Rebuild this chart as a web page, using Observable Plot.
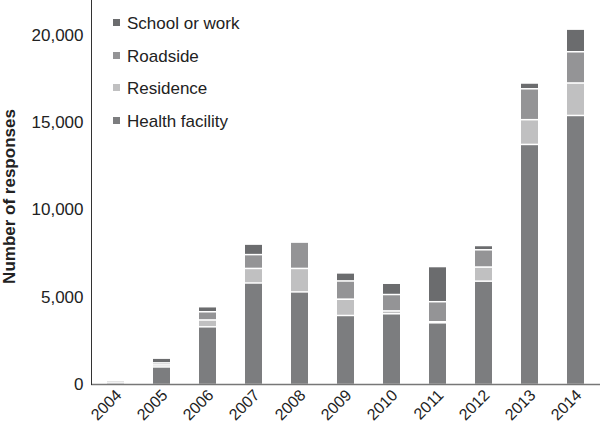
<!DOCTYPE html>
<html>
<head>
<meta charset="utf-8">
<script src="https://cdn.jsdelivr.net/npm/d3@7"></script>
<script src="https://cdn.jsdelivr.net/npm/@observablehq/plot@0.6"></script>
<style>
  html, body { margin: 0; padding: 0; background: #fff; }
  #wrap { position: relative; width: 600px; height: 424px; font-family: "Liberation Sans", Arial, sans-serif; }
  #legend { position: absolute; left: 113px; top: 8px; }
  .row { height: 32.7px; line-height: 32.7px; font-size: 17px; color: #222; white-space: nowrap; }
  .sw { display: inline-block; width: 7px; height: 7px; margin-right: 7px; vertical-align: middle; position: relative; top: -2px; }
</style>
</head>
<body>
<div id="wrap"><div id="chart"></div><div id="legend"></div></div>
<script>
const years = ["2004","2005","2006","2007","2008","2009","2010","2011","2012","2013","2014"];
const categories = ["Health facility", "Residence", "Roadside", "School or work"];
const healthFacility = [90, 1006, 3305, 5816, 5305, 3954, 4052, 3534, 5919, 13753, 15413];
const residence      = [50, 115, 390, 833, 1344, 931, 161, 60, 805, 1419, 1857];
const roadside       = [0, 115, 472, 793, 1437, 1046, 942, 1149, 994, 1770, 1793];
const schoolOrWork   = [0, 201, 218, 529, 0, 391, 575, 1943, 173, 259, 1224];
const colors = ["#7c7d7f", "#c0c0c1", "#949496", "#6b6c6e"];
const yTicks = [0, 5000, 10000, 15000, 20000];

const series = [healthFacility, residence, roadside, schoolOrWork];
const data = years.flatMap((yr, i) => categories.map((c, j) => ({year: yr, category: c, value: series[j][i]})));
const nonZero = data.filter((d) => d.value > 0);

const chart = Plot.plot({
  width: 600,
  height: 424,
  marginLeft: 91,
  marginRight: 0,
  marginTop: 0,
  marginBottom: 40,
  style: {fontFamily: "'Liberation Sans', Arial, sans-serif", fontSize: "17px", color: "#222", background: "white"},
  x: {domain: years, paddingInner: 0.63, paddingOuter: 0.315, label: null},
  y: {domain: [0, 22000], label: null},
  color: {domain: categories, range: colors},
  marks: [
    Plot.barY(nonZero, {x: "year", y: "value", fill: "category", order: categories}),
    Plot.tickY(nonZero, Plot.stackY1({x: "year", y: "value", z: "category", order: categories, stroke: "white", strokeWidth: 1.5})),
    Plot.axisY({ticks: yTicks, tickFormat: d3.format(","), tickSize: 0, tickPadding: 8, fontSize: 17, label: null}),
    Plot.axisX({tickRotate: -45, tickSize: 0, tickPadding: 8, dx: 3, fontSize: 16, label: null}),
    Plot.ruleY([0], {stroke: "#777", strokeWidth: 1.5}),
    Plot.frame({anchor: "left", stroke: "#333", strokeWidth: 1}),
    Plot.text(["Number of responses"], {frameAnchor: "left", textAnchor: "middle", rotate: -90, dx: -82, dy: 4, fontWeight: "bold", fontSize: 17, fill: "#222"})
  ]
});
document.getElementById("chart").appendChild(chart);

const legend = document.getElementById("legend");
[...categories].reverse().forEach((c) => {
  const row = document.createElement("div");
  row.className = "row";
  const sw = document.createElement("span");
  sw.className = "sw";
  sw.style.background = colors[categories.indexOf(c)];
  row.appendChild(sw);
  row.appendChild(document.createTextNode(c));
  legend.appendChild(row);
});
</script>
</body>
</html>
